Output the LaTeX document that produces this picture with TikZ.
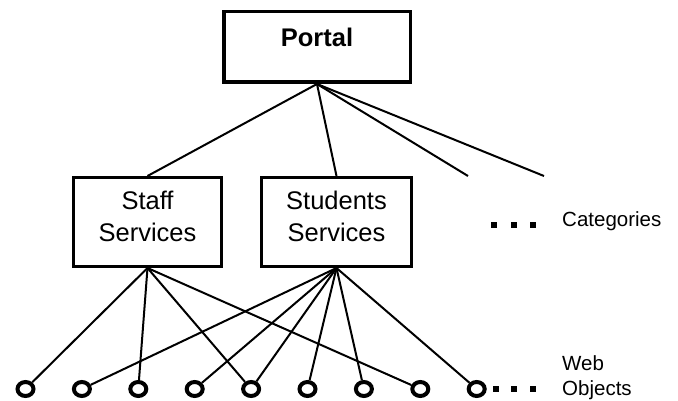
\documentclass[tikz,border=0pt]{standalone}
\usepackage{fontspec}
\setmainfont{Liberation Sans}
\usetikzlibrary{shapes.geometric}
\begin{document}
\begin{tikzpicture}[x=1pt,y=-1pt,
  boxnode/.style={draw,line width=3.5pt,inner sep=0pt,rectangle},
  bigtext/.style={inner sep=0pt,anchor=base,font=\fontsize{25.5}{31}\selectfont},
  smalltext/.style={inner sep=0pt,anchor=base west,font=\fontsize{20.5}{25}\selectfont},
  webobj/.style={draw,line width=4pt,ellipse,minimum width=16pt,minimum height=14pt,inner sep=0pt},
  conn/.style={line width=2pt},
  dotsq/.style={fill=black,inner sep=0pt,minimum size=6pt,rectangle}]
\useasboundingbox (0,0) rectangle (678,401);
% boxes
\node[boxnode,minimum width=186.5pt,minimum height=70.5pt] (portal) at (317,47) {};
\node[boxnode,minimum width=148pt,minimum height=88.5pt] (staff) at (147.5,222) {};
\node[boxnode,minimum width=150pt,minimum height=88.5pt] (students) at (336.5,222) {};
% texts
\node[bigtext,font=\fontsize{25.5}{31}\selectfont\bfseries] (tportal) at (317,46.7) {Portal};
\node[bigtext] (tstaff1) at (147.5,210) {Staff};
\node[bigtext] (tstaff2) at (147.5,241.7) {Services};
\node[bigtext] (tstud1) at (336.5,210) {Students};
\node[bigtext] (tstud2) at (336.5,241.7) {Services};
\node[smalltext] (tcat) at (562,226) {Categories};
\node[smalltext] (tweb) at (562,370) {Web};
\node[smalltext] (tobj) at (562,395.5) {Objects};
% web objects
\foreach \i/\x in {1/25.5,2/81.9,3/138.3,4/194.7,5/251.1,6/307.5,7/363.9,8/420.3,9/476.7}
  \node[webobj] (w\i) at (\x,389) {};
% dots
\foreach \i/\x in {1/494.3,2/514.3,3/533.3}
  \node[dotsq] (cd\i) at (\x,225) {};
\foreach \i/\x in {1/495.7,2/514.3,3/533.3}
  \node[dotsq] (wd\i) at (\x,389) {};
% free ends
\coordinate (c3) at (468,176);
\coordinate (c4) at (544,176);
% portal connectors
\draw[conn] (portal.south) -- (staff.north);
\draw[conn] (portal.south) -- (students.north);
\draw[conn] (portal.south) -- (c3);
\draw[conn] (portal.south) -- (c4);
% staff connectors
\foreach \j in {1,3,5,8}
  \draw[conn] (staff.south) -- (w\j);
% students connectors
\foreach \j in {2,4,5,6,7,9}
  \draw[conn] (students.south) -- (w\j);
\end{tikzpicture}
\end{document}
